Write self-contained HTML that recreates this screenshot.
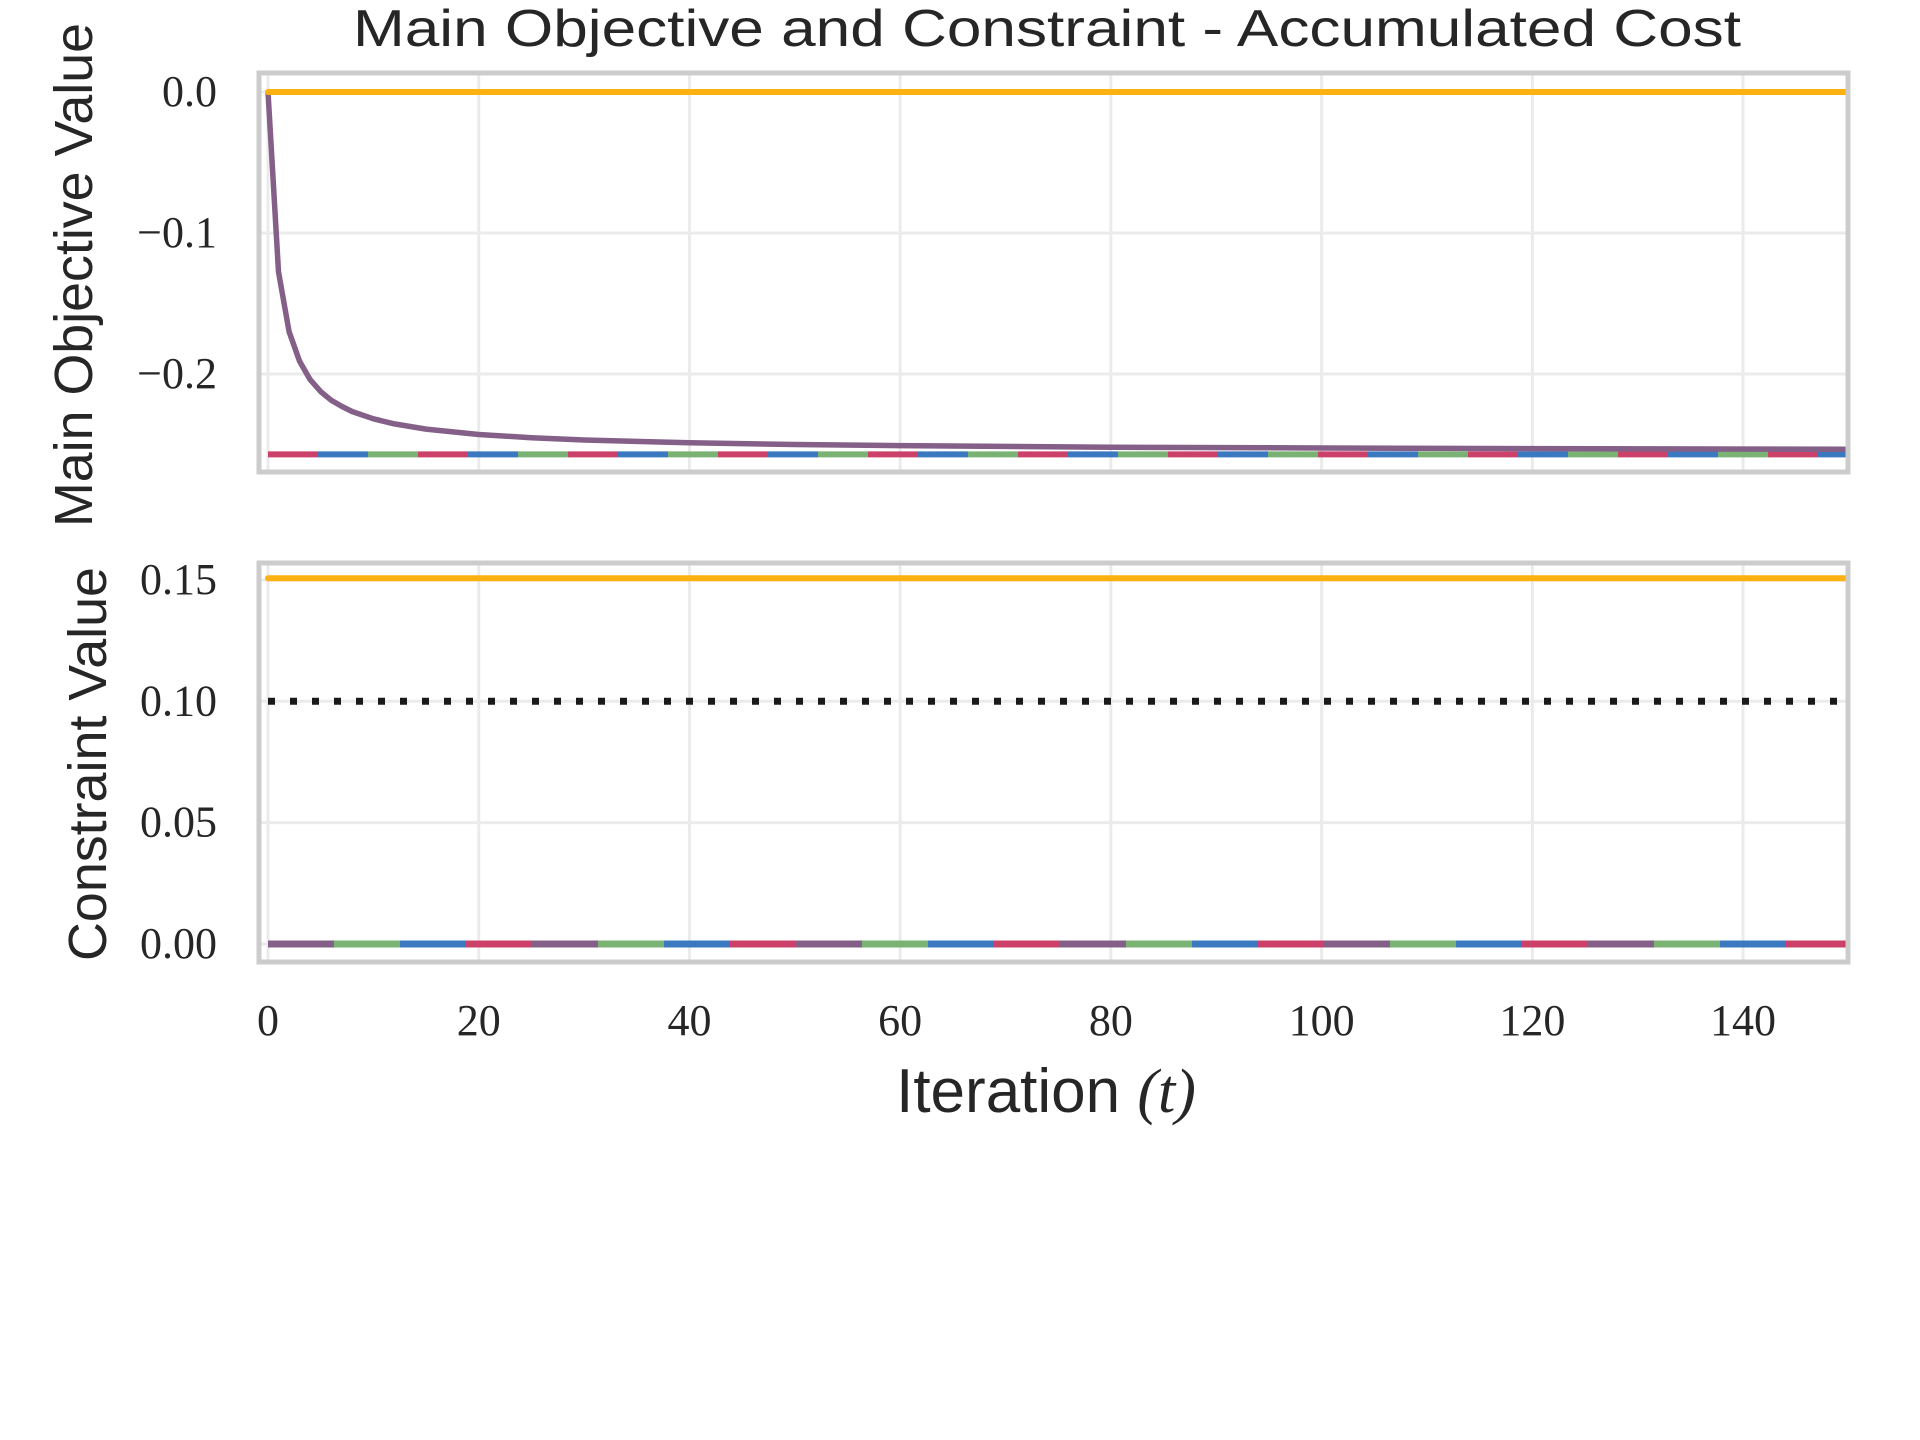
<!DOCTYPE html>
<html><head><meta charset="utf-8"><style>
html,body{margin:0;padding:0;background:#fff;width:1920px;height:1440px;overflow:hidden}
svg{display:block}
</style></head><body>
<svg id="chart" width="1920" height="1440" xmlns="http://www.w3.org/2000/svg">
<text x="1047" y="46" text-anchor="middle" font-family="Liberation Sans, sans-serif" font-size="52" fill="#262626" textLength="1388" lengthAdjust="spacingAndGlyphs">Main Objective and Constraint - Accumulated Cost</text>
<text transform="translate(92,275) rotate(-90)" text-anchor="middle" font-family="Liberation Sans, sans-serif" font-size="54" fill="#262626" textLength="504" lengthAdjust="spacingAndGlyphs">Main Objective Value</text>
<text transform="translate(106,764) rotate(-90)" text-anchor="middle" font-family="Liberation Sans, sans-serif" font-size="54" fill="#262626" textLength="394" lengthAdjust="spacingAndGlyphs">Constraint Value</text>
<text x="1046" y="1112" text-anchor="middle" font-family="Liberation Sans, sans-serif" font-size="62" fill="#262626">Iteration <tspan font-family="Liberation Serif, serif" font-style="italic">(t)</tspan></text>
<g id="gtop"></g>
<g id="gbot"></g>
</svg>
<script>
const xTicks = [0,20,40,60,80,100,120,140];
const topTicks = [0.0,-0.1,-0.2];
const topTickLabels = ["0.0","\u22120.1","\u22120.2"];
const botTicks = [0.00,0.05,0.10,0.15];
const botTickLabels = ["0.00","0.05","0.10","0.15"];
const objT = [0,1,2,3,4,5,6,7,8,10,12,15,20,25,30,40,50,60,80,100,120,150];
const objMain = [0,-0.1275,-0.170,-0.191,-0.204,-0.2125,-0.2186,-0.223,-0.2267,-0.2318,-0.2354,-0.2391,-0.2429,-0.2452,-0.2468,-0.2488,-0.25,-0.2508,-0.2519,-0.2525,-0.2529,-0.2533];
const objBaseline = [0,0];
const objOthers = [-0.257,-0.257];
const conBaseline = [0.1507,0.1507];
const conThreshold = [0.10,0.10];
const conOthers = [0,0];
const tRange = [0,150];

const NS="http://www.w3.org/2000/svg";
const X = t => 268 + t*10.536;
const Ytop = v => 92 - v*1410;
const Ybot = v => 944 - v*2427;
function el(parent,tag,attrs){const e=document.createElementNS(NS,tag);for(const k in attrs)e.setAttribute(k,attrs[k]);parent.appendChild(e);return e;}

function axes(g,y0,y1,ticks,labels,Y,prefix){
  xTicks.forEach(t=>{const l=el(g,'line',{x1:X(t),x2:X(t),y1:y0,y2:y1,stroke:'#ebebeb','stroke-width':3});
    
    });
  ticks.forEach((v,i)=>{const l=el(g,'line',{x1:259,x2:1848,y1:Y(v),y2:Y(v),stroke:'#ebebeb','stroke-width':3});
    
    
    const tx=el(g,'text',{x:217,y:Y(v)+14,'text-anchor':'end','font-family':'Liberation Serif, serif','font-size':44,fill:'#262626'});
    tx.textContent=labels[i];
    
    });
}
function spine(g,y0,y1,prefix){const r=el(g,'rect',{x:259,y:y0,width:1589,height:y1-y0,fill:'none',stroke:'#cccccc','stroke-width':5});
  
  }
function hline(g,vals,Y,color,w,dash,offset,name,cap){
  const l=el(g,'line',{x1:X(tRange[0]),x2:X(tRange[1])-2,y1:Y(vals[0]),y2:Y(vals[1]),stroke:color,'stroke-width':w,'stroke-linecap':cap||'butt'});
  if(dash){l.setAttribute('stroke-dasharray',dash);l.setAttribute('stroke-dashoffset',offset);}
  
  
}

const gTop=document.getElementById('gtop');
axes(gTop,73,472,topTicks,topTickLabels,Ytop,'objective');
['#cc416a','#3a78c0','#7ab274'].forEach((c,i)=>hline(gTop,objOthers,Ytop,c,6,'50 100',-50*i,'objective-dashed-series-'+i));
const path=objT.map((t,i)=>(i?'L':'M')+X(t).toFixed(1)+','+Ytop(objMain[i]).toFixed(1)).join(' ');
const p=el(gTop,'path',{d:path,fill:'none',stroke:'#845f88','stroke-width':5.5,'stroke-linejoin':'round'});


hline(gTop,objBaseline,Ytop,'#fbb10f',6,null,0,'objective-baseline-line','round');
spine(gTop,73,472,'objective');

const gBot=document.getElementById('gbot');
axes(gBot,563,962,botTicks,botTickLabels,Ybot,'constraint');
hline(gBot,conThreshold,Ybot,'#1a1a1a',7,'7 15',0,'constraint-threshold-line');
['#845f88','#7ab274','#3a78c0','#cc416a'].forEach((c,i)=>hline(gBot,conOthers,Ybot,c,7,'66 198',-66*i,'constraint-dashed-series-'+i));
hline(gBot,conBaseline,Ybot,'#fbb10f',6,null,0,'constraint-baseline-line','round');
spine(gBot,563,962,'constraint');
xTicks.forEach(t=>{const tx=el(gBot,'text',{x:X(t),y:1035,'text-anchor':'middle','font-family':'Liberation Serif, serif','font-size':44,fill:'#262626'});
  tx.textContent=String(t);
  
  });
</script>
</body></html>
